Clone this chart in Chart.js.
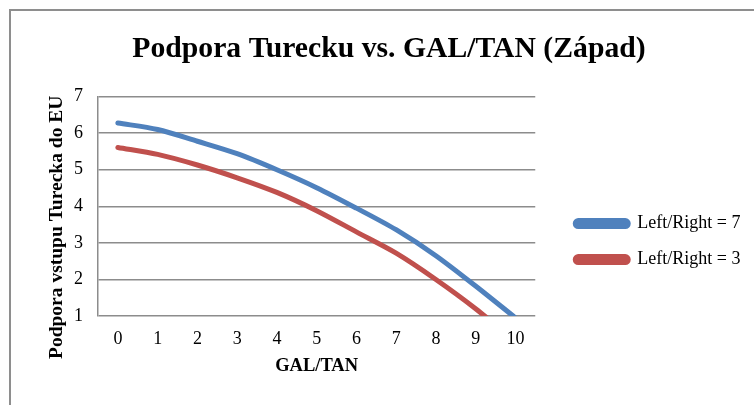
<!DOCTYPE html>
<html>
<head>
<meta charset="utf-8">
<script src="https://cdn.jsdelivr.net/npm/chart.js@4/dist/chart.umd.min.js"></script>
<style>
  html, body { margin: 0; padding: 0; background: #fff; overflow: hidden; }
  #frame { position: absolute; left: 9px; top: 9px; width: 760px; height: 420px;
           border: 2px solid #8e8e8e; background: #fff; }
  #wrap { position: absolute; left: 0; top: 0; width: 756px; height: 392px; }
</style>
</head>
<body>
<div id="frame"><div id="wrap"><canvas id="myChart"></canvas></div></div>
<script>
const categories = ["0", "1", "2", "3", "4", "5", "6", "7", "8", "9", "10"];
const seriesNames = ["Left/Right = 7", "Left/Right = 3"];
const lr7 = [6.28, 6.1, 5.78, 5.44, 5.0, 4.51, 3.95, 3.36, 2.65, 1.82, 0.95];
const lr3 = [5.61, 5.42, 5.13, 4.78, 4.38, 3.88, 3.3, 2.72, 2.0, 1.2, 0.3];
const yTicks = [1, 2, 3, 4, 5, 6, 7];

const serif = "'Liberation Serif', 'Times New Roman', serif";
const gridGray = "#8c8c8c";
const yTitle = "Podpora vstupu Turecka do EU";
const legendGap = 40;

// excel-like placement: title centred on whole frame, legend a bit away from plot,
// y title drawn slightly below the plot centre
const excelLayout = {
    id: "excelLayout",
    afterLayout(chart) {
        const lg = chart.legend;
        const dx = chart.chartArea.right + legendGap - (lg.left + lg.options.labels.padding);
        lg.left += dx;
        lg.right = chart.width;
        lg.width = lg.right - lg.left;
        chart.titleBlock.left = 0;
        chart.titleBlock.right = chart.width;
    },
    afterDraw(chart) {
        const c = chart.ctx;
        const area = chart.chartArea;
        c.save();
        c.translate(46, (area.top + area.bottom) / 2 + 21);
        c.rotate(-Math.PI / 2);
        c.font = "bold 19.5px " + serif;
        c.fillStyle = "#000";
        c.textAlign = "center";
        c.textBaseline = "middle";
        c.fillText(yTitle, 0, 0);
        c.restore();
    },
};

const ctx = document.getElementById("myChart").getContext("2d");

new Chart(ctx, {
    type: "line",
    data: {
        labels: categories,
        datasets: [
            {
                label: seriesNames[0],
                data: lr7,
                borderColor: "#4f81bd",
                backgroundColor: "#4f81bd",
                borderWidth: 5,
                pointRadius: 0,
                tension: 0.3,
                borderCapStyle: "round",
            },
            {
                label: seriesNames[1],
                data: lr3,
                borderColor: "#c0504d",
                backgroundColor: "#c0504d",
                borderWidth: 5,
                pointRadius: 0,
                tension: 0.3,
                borderCapStyle: "round",
            },
        ],
    },
    options: {
        responsive: true,
        maintainAspectRatio: false,
        animation: false,
        layout: { padding: { left: 0, right: 57, bottom: 26 } },
        plugins: {
            title: {
                display: true,
                text: "Podpora Turecku vs. GAL/TAN (Západ)",
                color: "#000",
                font: { family: serif, size: 29.7, weight: "bold" },
                padding: { top: 21, bottom: 29 },
            },
            legend: {
                position: "right",
                title: { display: true, text: " ", font: { size: 1 }, padding: { top: 0, bottom: 94 } },
                labels: {
                    color: "#000",
                    font: { family: serif, size: 18 },
                    boxWidth: 53,
                    boxHeight: 6,
                    padding: 18,
                    useBorderRadius: true,
                    borderRadius: 3,
                },
            },
            tooltip: { enabled: false },
        },
        scales: {
            x: {
                offset: true,
                afterFit: (scale) => {
                    scale.height = 61;
                },
                grid: { display: false, drawTicks: false },
                border: { display: false },
                ticks: { color: "#000", font: { family: serif, size: 18 }, padding: 12 },
                title: {
                    display: true,
                    text: "GAL/TAN",
                    color: "#000",
                    font: { family: serif, size: 18.5, weight: "bold" },
                    padding: { top: 6, bottom: 0 },
                },
            },
            y: {
                min: 1,
                max: 7,
                afterBuildTicks: (scale) => {
                    scale.ticks = yTicks.map((v) => ({ value: v }));
                },
                afterFit: (scale) => {
                    scale.width = 87;
                },
                grid: { color: gridGray, lineWidth: 1.5, drawTicks: false },
                border: { display: true, color: gridGray, width: 1.5 },
                ticks: { color: "#000", font: { family: serif, size: 18 }, padding: 15 },
            },
        },
    },
    plugins: [excelLayout],
});
</script>
</body>
</html>
